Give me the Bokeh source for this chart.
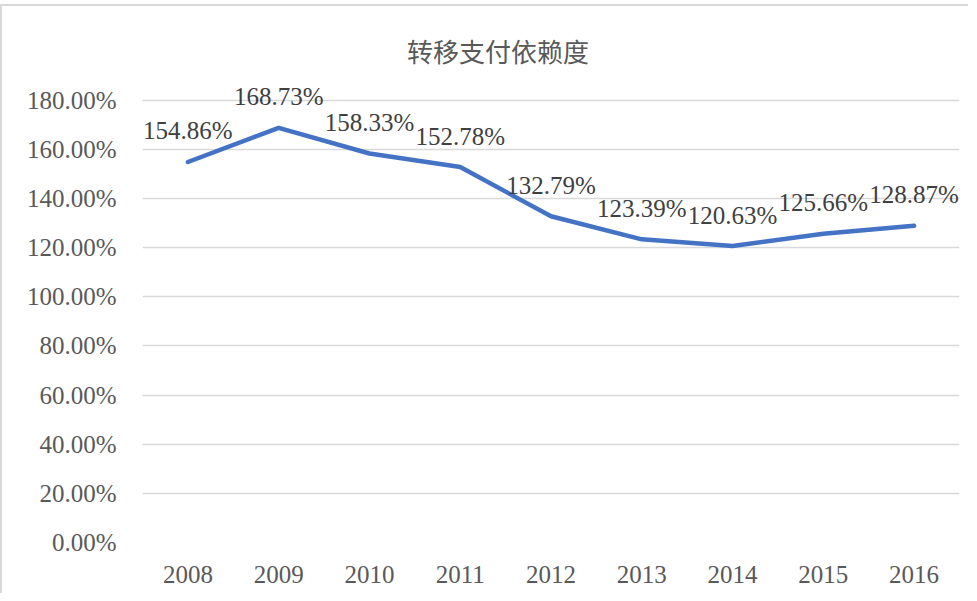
from bokeh.plotting import figure
from bokeh.models import ColumnDataSource, Label, FixedTicker, PrintfTickFormatter
from bokeh.core.properties import value
from bokeh.embed import file_html
from bokeh.resources import INLINE

years = ["2008", "2009", "2010", "2011", "2012", "2013", "2014", "2015", "2016"]
values = [154.86, 168.73, 158.33, 152.78, 132.79, 123.39, 120.63, 125.66, 128.87]
labels = ["154.86%", "168.73%", "158.33%", "152.78%", "132.79%", "123.39%", "120.63%", "125.66%", "128.87%"]
y_ticks = [0, 20, 40, 60, 80, 100, 120, 140, 160, 180]
title_text = "转移支付依赖度"

SERIF = "'Liberation Serif', 'Times New Roman', serif"

src = ColumnDataSource(dict(x=years, y=values, lab=labels))

p = figure(x_range=years, y_range=(0, 210), width=968, height=589,
           output_backend="svg", toolbar_location=None,
           min_border_left=140, min_border_right=11, min_border_top=20, min_border_bottom=53)
p.margin = (4, 0, 0, 0)
p.styles = {"border-left": "2px solid #d9d9d9", "border-top": "2px solid #d9d9d9"}
p.outline_line_color = None
p.background_fill_color = "white"
p.border_fill_color = "white"

p.line("x", "y", source=src, line_color="#4472C4", line_width=4.5, line_cap="round", line_join="round")

p.text(x="x", y="y", text="lab", source=src, text_align="center",
       text_baseline="alphabetic", y_offset=-31, text_font=value("Liberation Serif"),
       text_font_size=value("25px"), text_color="#404040")

# centre of the "2012" category on the categorical range is 4.5
p.add_layout(Label(x=4.5, y=200, x_offset=-53, y_offset=1, text=title_text, text_align="center",
                   text_baseline="middle", text_font="'Noto Sans CJK SC'", text_font_size="26px",
                   text_color="#595959"))

p.xgrid.grid_line_color = None
p.ygrid.grid_line_color = "#d9d9d9"
p.ygrid.grid_line_width = 1.5
p.yaxis.ticker = FixedTicker(ticks=y_ticks)
p.yaxis.formatter = PrintfTickFormatter(format="%.2f%%")

for ax in (p.xaxis[0], p.yaxis[0]):
    ax.axis_line_color = None
    ax.major_tick_line_color = None
    ax.minor_tick_line_color = None
    ax.major_label_text_font = SERIF
    ax.major_label_text_font_size = "25px"
    ax.major_label_text_color = "#595959"
p.yaxis.major_label_standoff = 20
p.xaxis.major_label_standoff = 17

open("out.html", "w").write(file_html(p, INLINE))
